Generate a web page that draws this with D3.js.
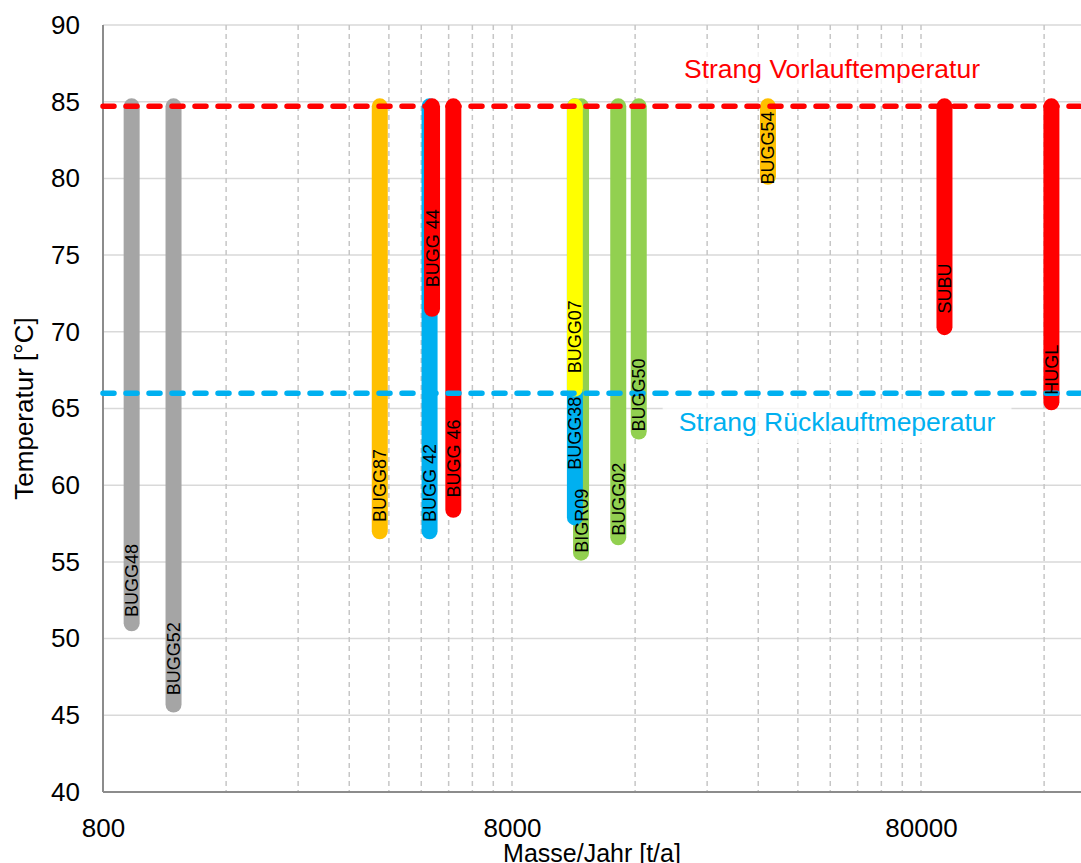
<!DOCTYPE html>
<html>
<head>
<meta charset="utf-8">
<script src="https://cdn.jsdelivr.net/npm/d3@7"></script>
<style>
  html, body { margin: 0; padding: 0; background: #fff; }
  svg { display: block; font-family: "Liberation Sans", Arial, sans-serif; }
</style>
</head>
<body>
<svg id="chart" width="1081" height="863"></svg>
<script>
// Stations: mass flow per year (t/a), supply temperature and return temperature (°C)
const names      = ["BUGG48", "BUGG52", "BUGG87", "BUGG 42", "BUGG 44", "BUGG 46", "BIGR09", "BUGG38", "BUGG07", "BUGG02", "BUGG50", "BUGG54", "SUBU", "HUGL"];
const massFlow   = [940, 1190, 3800, 5030, 5100, 5750, 11800, 11400, 11400, 14550, 16330, 33800, 91300, 166700];
const tempHigh   = [84.7, 84.7, 84.7, 84.7, 84.7, 84.7, 84.7, 84.7, 84.7, 84.7, 84.7, 84.7, 84.7, 84.7];
const tempLow    = [51.0, 45.7, 57.0, 57.0, 71.5, 58.4, 55.6, 57.9, 66.3, 56.6, 63.5, 80.1, 70.3, 65.4];
const labelTemp  = [51.4, 46.3, 57.6, 57.6, 72.9, 59.2, 55.6, 61.0, 67.3, 56.7, 63.5, 79.6, 71.2, 65.9];
const barColors  = ["#A5A5A5", "#A5A5A5", "#FFC000", "#00B0F0", "#FF0000", "#FF0000", "#92D050", "#00B0F0", "#FFFF00", "#92D050", "#92D050", "#FFC000", "#FF0000", "#FF0000"];

// Line temperatures of the district heating branch
const supplyTemp = 84.7;
const returnTemp = 66.0;
const supplyLabel = "Strang Vorlauftemperatur";
const returnLabel = "Strang Rücklauftmeperatur";

// Axis settings
const xTickValues = [800, 8000, 80000];
const yTickValues = [40, 45, 50, 55, 60, 65, 70, 75, 80, 85, 90];
const xTitle = "Masse/Jahr [t/a]";
const yTitle = "Temperatur [°C]";

const svg = d3.select("#chart");
const W = 1081, H = 863;
const m = { left: 103, top: 25, bottom: 792 };
const decade = 409;

const x = d3.scaleLog().domain([800, 200000]).range([m.left, m.left + decade * Math.log10(250)]);
const y = d3.scaleLinear().domain([40, 90]).range([m.bottom, m.top]);

// Minor gridlines at multiples of each decade start (800, 1600, ... 8000, 16000, ...)
const minorX = [];
for (let base = 800; base < 200000; base *= 10) {
  for (let k = 2; k <= 10; k++) {
    const v = base * k;
    if (v < 200000) minorX.push(v);
  }
}

const grid = svg.append("g");
grid.selectAll("line.h")
  .data(yTickValues.filter(d => d > 40))
  .join("line")
  .attr("x1", m.left).attr("x2", W)
  .attr("y1", d => y(d)).attr("y2", d => y(d))
  .attr("stroke", "#D9D9D9").attr("stroke-width", 1.5);

grid.selectAll("line.v")
  .data(minorX)
  .join("line")
  .attr("x1", d => x(d)).attr("x2", d => x(d))
  .attr("y1", m.top).attr("y2", m.bottom)
  .attr("stroke", "#C6C6C6").attr("stroke-width", 1.5)
  .attr("stroke-dasharray", "5,4");

// Axis lines
svg.append("line").attr("x1", m.left).attr("x2", m.left).attr("y1", m.top).attr("y2", m.bottom)
  .attr("stroke", "#8C8C8C").attr("stroke-width", 2);
svg.append("line").attr("x1", m.left).attr("x2", W).attr("y1", m.bottom).attr("y2", m.bottom)
  .attr("stroke", "#8C8C8C").attr("stroke-width", 2);

// Y axis tick labels
const yAxis = d3.axisLeft(y).tickValues(yTickValues).tickSize(0).tickPadding(23);
const gy = svg.append("g").attr("transform", `translate(${m.left},0)`).call(yAxis);
gy.select(".domain").remove();
gy.selectAll("text").attr("font-size", 26).attr("fill", "#000")
  .attr("font-family", "Liberation Sans, Arial, sans-serif");

// X axis tick labels
const xAxis = d3.axisBottom(x).tickValues(xTickValues).tickFormat(d3.format("d")).tickSize(0).tickPadding(27);
const gx = svg.append("g").attr("transform", `translate(0,${m.bottom})`).call(xAxis);
gx.select(".domain").remove();
gx.selectAll("text").attr("font-size", 26).attr("fill", "#000")
  .attr("font-family", "Liberation Sans, Arial, sans-serif");

// Axis titles
svg.append("text").attr("x", (m.left + W) / 2).attr("y", 862)
  .attr("text-anchor", "middle").attr("font-size", 25).text(xTitle);
svg.append("text").attr("transform", `translate(33,${(m.top + m.bottom) / 2}) rotate(-90)`)
  .attr("text-anchor", "middle").attr("font-size", 26).text(yTitle);

// Temperature ranges per station
const rows = names.map((n, i) => ({ name: n, m: massFlow[i], hi: tempHigh[i], lo: tempLow[i], lab: labelTemp[i], c: barColors[i] }));

svg.append("g").selectAll("line")
  .data(rows)
  .join("line")
  .attr("x1", d => x(d.m)).attr("x2", d => x(d.m))
  .attr("y1", d => y(d.hi)).attr("y2", d => y(d.lo))
  .attr("stroke", d => d.c).attr("stroke-width", 16)
  .attr("stroke-linecap", "round");

// Branch supply / return lines
const refs = [
  { t: supplyTemp, c: "#FF0000" },
  { t: returnTemp, c: "#00B0F0" }
];
svg.append("g").selectAll("line")
  .data(refs)
  .join("line")
  .attr("x1", m.left).attr("x2", W)
  .attr("y1", d => y(d.t)).attr("y2", d => y(d.t))
  .attr("stroke", d => d.c).attr("stroke-width", 5.5)
  .attr("stroke-dasharray", "11,12").attr("stroke-linecap", "round");

// Annotation labels with translucent background
function note(text, cx, baseline, color) {
  const g = svg.append("g");
  const rect = g.append("rect").attr("fill", "#fff").attr("fill-opacity", 0.75);
  const t = g.append("text").attr("x", cx).attr("y", baseline).attr("text-anchor", "middle")
    .attr("font-size", 26.5).attr("fill", color).text(text);
  const b = t.node().getBBox();
  rect.attr("x", b.x - 16).attr("y", b.y - 6).attr("width", b.width + 32).attr("height", b.height + 12);
}
note(supplyLabel, 832, 78, "#FF0000");
note(returnLabel, 837, 431, "#00B0F0");

// Station labels, vertical along each bar
svg.append("g").selectAll("text")
  .data(rows)
  .join("text")
  .attr("transform", d => `translate(${x(d.m)},${y(d.lab)}) rotate(-90)`)
  .attr("dy", "0.36em")
  .attr("font-size", 18).attr("fill", "#000")
  .text(d => d.name);
</script>
</body>
</html>
